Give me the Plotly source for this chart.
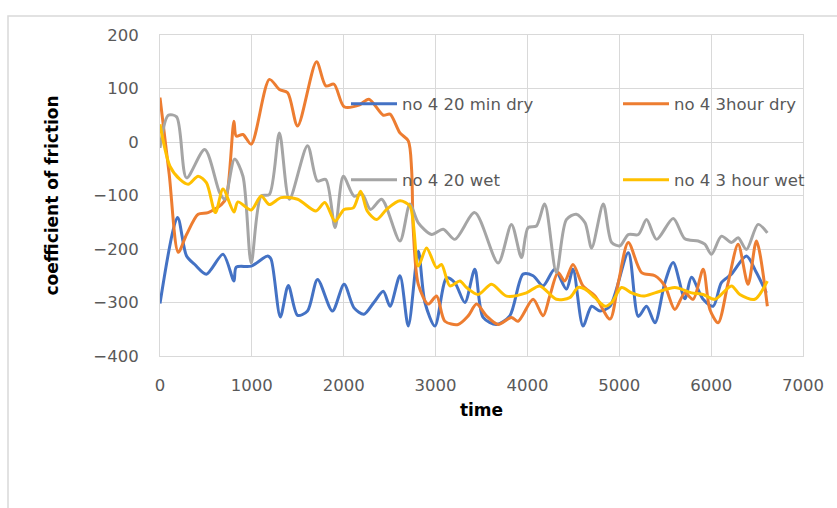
import plotly.graph_objects as go

# ---- data ----
t_blue = [0, 191, 289, 379, 505, 686, 805, 830, 993, 1173, 1209, 1310, 1397, 1498, 1606, 1715, 1877, 2004, 2112, 2220,
          2328, 2431, 2504, 2612, 2703, 2812, 2884, 2993, 3120, 3210, 3319, 3427, 3518, 3663, 3808, 3953, 4062, 4170,
          4297, 4424, 4496, 4605, 4699, 4790, 4899, 5098, 5207, 5297, 5388, 5496, 5587, 5714, 5786, 5913, 6022, 6112,
          6221, 6384, 6493, 6601]
v_blue = [-302, -141, -213, -229, -247, -210, -260, -234, -232, -213, -219, -327, -268, -324, -316, -257, -316, -266, -310, -322,
          -300, -279, -307, -250, -344, -204, -300, -344, -254, -263, -300, -238, -328, -341, -325, -247, -250, -269,
          -238, -275, -238, -344, -307, -316, -307, -207, -326, -307, -338, -263, -225, -293, -253, -294, -307, -263,
          -247, -213, -244, -282]

t_orange = [0, 100, 199, 289, 415, 523, 668, 722, 805, 830, 903, 993, 1191, 1300, 1390, 1498, 1704, 1805, 1895, 2004,
            2166, 2274, 2431, 2504, 2612, 2703, 2739, 2757, 2812, 2920, 3011, 3101, 3246, 3355, 3446, 3554, 3681, 3826,
            3898, 4062, 4170, 4243, 4333, 4406, 4496, 4605, 4736, 4899, 4989, 5098, 5243, 5388, 5496, 5605, 5714, 5804,
            5913, 5986, 6076, 6185, 6294, 6402, 6493, 6612]
v_orange = [83, -60, -206, -173, -135, -132, -117, -104, 39, 11, 14, -4, 117, 98, 92, 30, 150, 105, 108, 66,
            69, 80, 50, 52, 17, 2, -51, -163, -266, -303, -288, -335, -341, -325, -303, -325, -341, -328,
            -335, -294, -325, -288, -244, -260, -229, -269, -288, -331, -263, -188, -244, -250, -269, -313, -282, -294,
            -238, -313, -338, -263, -191, -266, -185, -307]

t_gray = [0, 90, 181, 289, 487, 650, 704, 812, 903, 993, 1101, 1191, 1300, 1408, 1606, 1715, 1805, 1906, 1996, 2112,
          2202, 2292, 2413, 2612, 2721, 2812, 2957, 3083, 3210, 3427, 3681, 3826, 3935, 4007, 4098, 4188, 4315, 4424,
          4532, 4627, 4699, 4826, 4917, 5007, 5098, 5207, 5297, 5406, 5587, 5714, 5859, 5931, 6004, 6112, 6221, 6294,
          6384, 6511, 6612]
v_gray = [-11, 50, 47, -67, -14, -95, -107, -32, -64, -226, -101, -98, 17, -107, -7, -73, -70, -160, -64, -101,
          -98, -126, -107, -185, -116, -151, -173, -163, -182, -132, -226, -154, -216, -160, -157, -116, -244, -145,
          -135, -151, -198, -116, -188, -194, -173, -173, -145, -182, -143, -181, -185, -191, -210, -176, -188, -179,
          -201, -154, -170]

t_yellow = [0, 108, 217, 307, 415, 505, 603, 686, 805, 848, 993, 1101, 1191, 1318, 1498, 1697, 1794, 1906, 2004, 2105,
            2184, 2256, 2359, 2467, 2612, 2721, 2812, 2902, 3011, 3065, 3156, 3264, 3337, 3464, 3609, 3772, 3989, 4134,
            4315, 4460, 4551, 4627, 4736, 4844, 4917, 5025, 5134, 5261, 5388, 5605, 5786, 5913, 6040, 6221, 6312, 6475,
            6612]
v_yellow = [33, -45, -70, -79, -64, -76, -132, -88, -131, -112, -127, -101, -117, -104, -107, -129, -113, -148, -126, -123,
            -92, -129, -145, -126, -110, -120, -232, -198, -235, -229, -269, -260, -272, -285, -266, -288, -282, -269,
            -294, -291, -272, -275, -291, -307, -300, -272, -282, -288, -282, -272, -282, -285, -294, -269, -285, -294,
            -260]

series = [
    ("no 4 20 min dry", t_blue, v_blue, "#4472C4", "legend"),
    ("no 4 3hour dry", t_orange, v_orange, "#ED7D31", "legend2"),
    ("no 4 20 wet", t_gray, v_gray, "#A5A5A5", "legend3"),
    ("no 4 3 hour wet", t_yellow, v_yellow, "#FFC000", "legend4"),
]

TXT = "#595959"
GRID = "#D9D9D9"
FONT = "DejaVu Sans"

fig = go.Figure()
for name, tx, vy, col, lg in series:
    fig.add_trace(go.Scatter(x=tx, y=vy, name=name, mode="lines", showlegend=True,
                             line=dict(color=col, width=3, shape="spline", smoothing=0.8),
                             legend=lg))

# plot area in pixels: x 160..803, y 35..356
PL, PR, PT, PB = 160, 803, 35, 356
def px(x):
    return (x - PL) / (PR - PL)
def py(y):
    return (PB - y) / (PB - PT)

leg_common = dict(bgcolor="rgba(0,0,0,0)", borderwidth=0, xanchor="left", yanchor="middle",
                  itemwidth=46,
                  font=dict(family=FONT, size=16.5, color=TXT), visible=True)
fig.update_layout(
    width=837, height=508,
    showlegend=True,
    margin=dict(l=PL, r=837 - PR, t=PT, b=508 - PB),
    paper_bgcolor="white", plot_bgcolor="white",
    font=dict(family=FONT, color=TXT),
    legend=dict(x=px(346), y=py(104), **leg_common),
    legend2=dict(x=px(618), y=py(104), **leg_common),
    legend3=dict(x=px(346), y=py(180), **leg_common),
    legend4=dict(x=px(618), y=py(180), **leg_common),
    xaxis=dict(range=[0, 7000], dtick=1000, tick0=0, showgrid=True, gridcolor=GRID, gridwidth=1,
               zeroline=False, showline=True, linecolor=GRID, mirror=True, ticks="",
               ticklabelstandoff=14,
               tickfont=dict(family=FONT, size=16.5, color=TXT),
               title=dict(text="<b>time</b>", font=dict(family=FONT, size=17, color="black"), standoff=10),
               automargin=False),
    yaxis=dict(range=[-400, 200], dtick=100, tick0=0, showgrid=True, gridcolor=GRID, gridwidth=1,
               zeroline=False, showline=True, linecolor=GRID, mirror=True, ticks="",
               ticklabelstandoff=17,
               tickfont=dict(family=FONT, size=16.5, color=TXT),
               title=dict(text="<b>coefficient of friction</b>", font=dict(family=FONT, size=17, color="black"),
                          standoff=30),
               automargin=False),
    shapes=[dict(type="rect", xref="paper", yref="paper", x0=px(8), x1=px(850), y0=py(520), y1=py(16),
                 line=dict(color=GRID, width=1.5), fillcolor="rgba(0,0,0,0)", layer="below")],
)

fig.write_html("out.html")
